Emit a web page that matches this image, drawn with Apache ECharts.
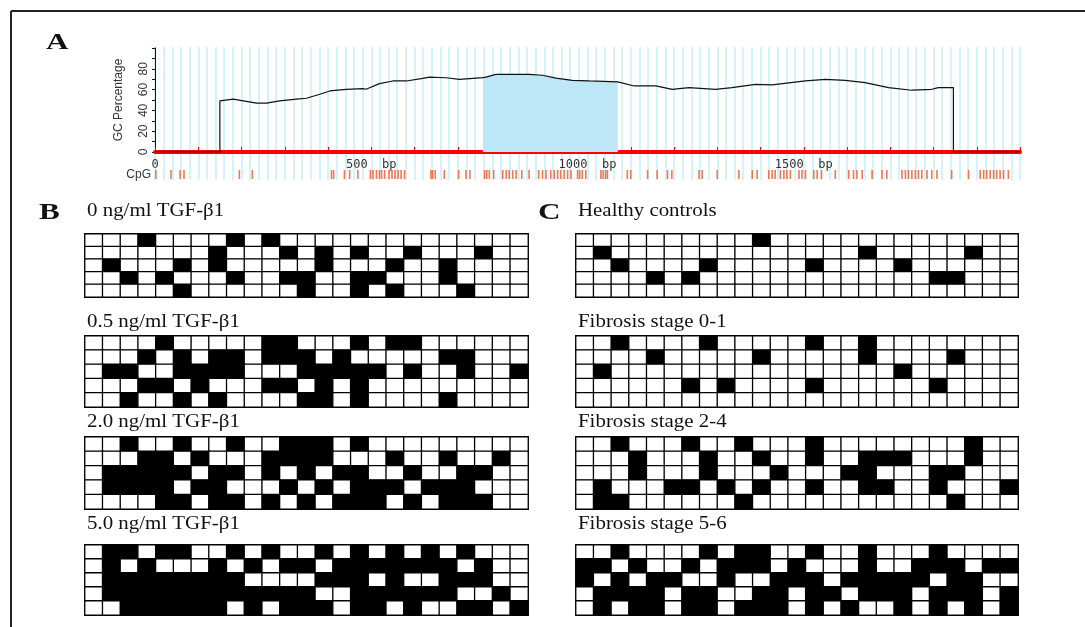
<!DOCTYPE html>
<html>
<head>
<meta charset="utf-8">
<title>GC content and methylation</title>
<script src="https://cdn.jsdelivr.net/npm/echarts@6/dist/echarts.min.js"></script>
<style>
  html, body { margin: 0; background: #fff; }
  #chart { width: 1085px; height: 627px; }
</style>
</head>
<body>
<div id="chart"></div>
<script>
// Panel A: GC percentage along the sequence, [bp, %]
const gcProfile = [
  [0, 0], [150, 0], [150, 49.2], [181, 50.8], [204, 49.2], [235, 47], [258, 47],
  [288, 49.2], [327, 50.8], [350, 51.7], [381, 55.5], [404, 58.7], [442, 60.3],
  [481, 61], [488, 60.3], [519, 65.7], [550, 68.3], [581, 68.3], [619, 70.8],
  [635, 72], [673, 71.4], [704, 69.8], [735, 70.8], [758, 71.5], [765, 72],
  [788, 74.6], [865, 74.6], [896, 73.8], [927, 71], [965, 68.9], [1004, 68.3],
  [1070, 67.4], [1108, 63.5], [1158, 63.5], [1196, 60.3], [1235, 61.9],
  [1296, 60.3], [1334, 61.9], [1388, 65.1], [1427, 64.5], [1504, 68.3],
  [1550, 69.9], [1596, 68.9], [1642, 66.7], [1696, 61.9], [1750, 59.4],
  [1796, 60.3], [1811, 61.9], [1846, 61.9], [1846, 0], [2000, 0]
];
const cpgIsland = [758, 1070];
const cpgSites = [
  2, 37, 58, 67, 195, 225, 408, 413, 438, 450, 469, 498, 504, 512, 519, 524, 531,
  541, 548, 555, 562, 569, 577, 638, 642, 648, 669, 702, 719, 728, 762, 767, 773,
  783, 804, 812, 819, 827, 835, 848, 865, 887, 896, 904, 915, 923, 931, 938, 946,
  954, 962, 977, 982, 988, 996, 1031, 1036, 1042, 1046, 1092, 1100, 1139, 1161,
  1185, 1195, 1258, 1265, 1300, 1350, 1381, 1392, 1419, 1427, 1434, 1446, 1454,
  1461, 1469, 1489, 1496, 1504, 1523, 1531, 1541, 1573, 1604, 1615, 1623, 1635,
  1658, 1681, 1692, 1727, 1735, 1742, 1750, 1758, 1765, 1773, 1785, 1796, 1808,
  1842, 1881, 1908, 1916, 1923, 1931, 1939, 1946, 1954, 1962, 1973
];

// Panels B and C: 5 clones x 25 CpG sites, 1 = methylated
const tgf0 = [
  '0001000010100000000000000',
  '0000000100010101001000100',
  '0100010100000100010010000',
  '0010100010011001100010000',
  '0000010000001001010001000'
];
const tgf05 = [
  '0000100000110001011000000',
  '0001010110111010000011000',
  '0110011110001111101001001',
  '0001101000110101000000000',
  '0010010100001101000010000'
];
const tgf20 = [
  '0010010010011101000000000',
  '0001101000111100010010010',
  '0111110110101011001001100',
  '0111101100010101110111000',
  '0000110110101011101011100'
];
const tgf50 = [
  '0110110010100101010101000',
  '0101000101011011111110100',
  '0111111110000111010011100',
  '0111111111111001111110010',
  '0011111101011101101001101'
];
const healthy = [
  '0000000000100000000000000',
  '0100000000000000100000100',
  '0010000100000100001000000',
  '0000101000000000000011000',
  '0000000000000000000000000'
];
const fib01 = [
  '0010000100000100100000000',
  '0000100000100000100001000',
  '0100000000000000001000000',
  '0000001010000100000010000',
  '0000000000000000000000000'
];
const fib24 = [
  '0010001001000100000000100',
  '0001000100100100111000100',
  '0001000100010001100011000',
  '0100011010100100110010001',
  '0110000001000000000001000'
];
const fib56 = [
  '0010000101100100100010000',
  '1101001011101000100111011',
  '1010110010011101111101100',
  '0111101100110110111011101',
  '0101101101110101001010101'
];
const labelsB = ['0 ng/ml TGF-β1', '0.5 ng/ml TGF-β1', '2.0 ng/ml TGF-β1', '5.0 ng/ml TGF-β1'];
const labelsC = ['Healthy controls', 'Fibrosis stage 0-1', 'Fibrosis stage 2-4', 'Fibrosis stage 5-6'];

const chart = echarts.init(document.getElementById('chart'));

const serif = "'Liberation Serif', 'Times New Roman', serif";
const sans = "'Liberation Sans', Arial, sans-serif";

// heatmap block positions (top / height per row of blocks)
const blockRows = [
  { top: 234, height: 63, labelY: 211 },
  { top: 336, height: 71, labelY: 322 },
  { top: 437, height: 72, labelY: 422 },
  { top: 545, height: 70, labelY: 524 }
];
const blocks = [];
[tgf0, tgf05, tgf20, tgf50].forEach((rows, i) => blocks.push({ rows, label: labelsB[i], left: 85, width: 443, ...blockRows[i] }));
[healthy, fib01, fib24, fib56].forEach((rows, i) => blocks.push({ rows, label: labelsC[i], left: 576, width: 442, ...blockRows[i] }));

const sites = Array.from({ length: 25 }, (_, i) => i + 1);
const clones = [0, 1, 2, 3, 4];

const grids = [
  { left: 155, top: 47, width: 865, height: 133 },   // stripes
  { left: 155, top: 48, width: 865, height: 104 },   // GC plot
  { left: 155, top: 170, width: 865, height: 9 }     // CpG sites
];
const xAxes = [
  {
    gridIndex: 0, type: 'value', min: 0, max: 2000, interval: 20, z: 0,
    axisLine: { show: false }, axisTick: { show: false }, axisLabel: { show: false },
    splitLine: { show: true, lineStyle: { color: '#d3f4fb', width: 2 } }
  },
  {
    gridIndex: 1, type: 'value', min: 0, max: 2000, interval: 100, z: 1,
    axisLine: { lineStyle: { color: '#ff0000', width: 4 } },
    axisTick: { inside: true, length: 5, lineStyle: { color: '#ff0000', width: 1 } },
    axisLabel: {
      margin: 7, color: '#333', fontFamily: "'DejaVu Sans Mono', monospace", fontSize: 12,
      formatter: v => v === 0 ? '0' : (v % 500 === 0 && v < 2000 ? v + '  bp' : '')
    },
    splitLine: { show: false }
  },
  {
    gridIndex: 2, type: 'value', min: 0, max: 2000, show: false
  }
];
const yAxes = [
  { gridIndex: 0, type: 'value', min: 0, max: 1, show: false },
  {
    gridIndex: 1, type: 'value', min: 0, max: 100, interval: 10,
    name: 'GC Percentage', nameLocation: 'middle', nameGap: 30, nameRotate: 90,
    nameTextStyle: { color: '#333', fontFamily: sans, fontSize: 12 },
    axisLine: { show: true, lineStyle: { color: '#111', width: 1 } },
    axisTick: { show: true, length: 3, lineStyle: { color: '#111' } },
    axisLabel: {
      rotate: 90, margin: 5, color: '#333', fontFamily: sans, fontSize: 12,
      formatter: v => (v % 20 === 0 && v < 100) ? String(v) : ''
    },
    splitLine: { show: false }
  },
  { gridIndex: 2, type: 'value', min: 0, max: 1, show: false }
];

const series = [
  {
    type: 'line', xAxisIndex: 1, yAxisIndex: 1, symbol: 'none', z: 2,
    data: gcProfile.filter(p => p[0] >= cpgIsland[0] && p[0] <= cpgIsland[1]),
    lineStyle: { width: 0 },
    areaStyle: { color: '#bde7f6', opacity: 1 }
  },
  {
    type: 'line', xAxisIndex: 1, yAxisIndex: 1, symbol: 'none', z: 3,
    data: gcProfile,
    lineStyle: { color: '#111', width: 1.2 }
  },
  {
    type: 'scatter', xAxisIndex: 2, yAxisIndex: 2, symbol: 'rect', symbolSize: [1.6, 9],
    data: cpgSites.map(p => [p, 0.5]),
    itemStyle: { color: '#f0693c', opacity: 0.9 }
  }
];

const graphic = [
  { type: 'line', shape: { x1: 11, y1: 11, x2: 1085, y2: 11 }, style: { stroke: '#222', lineWidth: 2 } },
  { type: 'line', shape: { x1: 11, y1: 11, x2: 11, y2: 627 }, style: { stroke: '#222', lineWidth: 2 } },
  { type: 'text', x: 46, y: 43, scaleX: 1.3, style: { text: 'A', font: 'bold 24px ' + serif, fill: '#111', verticalAlign: 'middle' } },
  { type: 'text', x: 39, y: 213, scaleX: 1.3, style: { text: 'B', font: 'bold 24px ' + serif, fill: '#111', verticalAlign: 'middle' } },
  { type: 'text', x: 538, y: 213, scaleX: 1.3, style: { text: 'C', font: 'bold 24px ' + serif, fill: '#111', verticalAlign: 'middle' } },
  { type: 'text', x: 151, y: 175, style: { text: 'CpG', font: '12px ' + sans, fill: '#333', align: 'right', verticalAlign: 'middle' } }
];

blocks.forEach((b, i) => {
  grids.push({ left: b.left, top: b.top, width: b.width, height: b.height, show: true, borderColor: '#555', borderWidth: 2 });
  xAxes.push({ gridIndex: 3 + i, type: 'category', data: sites, show: false });
  yAxes.push({ gridIndex: 3 + i, type: 'category', data: clones, inverse: true, show: false });
  series.push({
    type: 'heatmap', xAxisIndex: 3 + i, yAxisIndex: 3 + i,
    data: b.rows.flatMap((row, y) => row.split('').map((c, x) => [x, y, Number(c)])),
    itemStyle: { borderColor: '#000', borderWidth: 1.3 },
    emphasis: { disabled: true }
  });
  graphic.push({
    type: 'text', x: b.left + 2, y: b.labelY, scaleX: 1.1,
    style: { text: b.label, font: '19px ' + serif, fill: '#111', verticalAlign: 'middle' }
  });
});

chart.setOption({
  animation: false,
  grid: grids,
  xAxis: xAxes,
  yAxis: yAxes,
  visualMap: {
    type: 'piecewise', show: false, dimension: 2,
    seriesIndex: blocks.map((_, i) => 3 + i),
    pieces: [{ value: 0, color: '#fff' }, { value: 1, color: '#000' }]
  },
  series,
  graphic
});
</script>
</body>
</html>
